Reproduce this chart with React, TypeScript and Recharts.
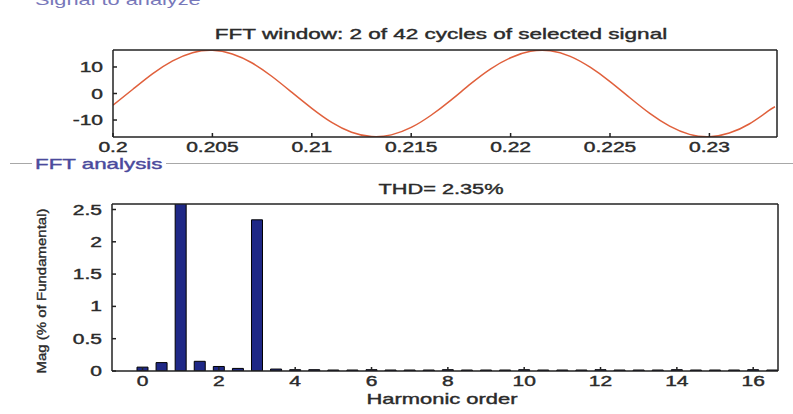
import React from 'react';
import { LineChart, Line, ComposedChart, Bar, XAxis, YAxis } from 'recharts';

// signal window (s) and amplitude
const timeS = [
  0.2, 0.201, 0.202, 0.203, 0.204, 0.205, 0.206, 0.207, 0.208, 0.209,
  0.21, 0.211, 0.212, 0.213, 0.214, 0.215, 0.216, 0.217, 0.218, 0.219,
  0.22, 0.221, 0.222, 0.223, 0.224, 0.225, 0.226, 0.227, 0.228, 0.229,
  0.23, 0.231, 0.232, 0.233, 0.2333,
];
const signal = [
  -4.4, 1.6, 7.5, 12.3, 15.4, 16.3, 14.9, 11.5, 6.4, 0.4,
  -5.6, -10.9, -14.6, -16.2, -15.6, -12.8, -8.2, -2.5, 3.7, 9.3,
  13.5, 15.9, 16.1, 14.0, 9.9, 4.5, -1.6, -7.5, -12.3, -15.4,
  -16.3, -14.9, -11.5, -6.4, -5.0,
];
const timeTicks = [0.2, 0.205, 0.21, 0.215, 0.22, 0.225, 0.23];
const signalTicks = [-10, 0, 10];

// FFT spectrum, % of fundamental
const harmonic = [
  0, 0.5, 1, 1.5, 2, 2.5, 3, 3.5, 4, 4.5, 5, 5.5, 6, 6.5, 7, 7.5, 8, 8.5,
  9, 9.5, 10, 10.5, 11, 11.5, 12, 12.5, 13, 13.5, 14, 14.5, 15, 15.5, 16, 16.5,
];
const magnitude = [
  0.06, 0.13, 100, 0.15, 0.07, 0.04, 2.34, 0.03, 0.02, 0.02, 0.015, 0.015, 0.02, 0.015, 0.015, 0.015, 0.02, 0.015,
  0.015, 0.015, 0.02, 0.015, 0.015, 0.015, 0.02, 0.015, 0.015, 0.015, 0.02, 0.015, 0.015, 0.015, 0.02, 0.015,
];
const harmonicTicks = [0, 2, 4, 6, 8, 10, 12, 14, 16];
const magTicks = [0, 0.5, 1, 1.5, 2, 2.5];

const signalData = timeS.map((t, i) => ({ t, v: signal[i] }));
const fftData = harmonic.map((h, i) => ({ h, m: magnitude[i] }));

const FONT = '"Liberation Sans", Arial, sans-serif';
const INK = '#2b2b2b';
const AXIS = '#222';

// matlab screenshot is stretched sideways, so labels get a horizontal scale
const StretchTick = (props: any) => {
  const { x, y, payload, textAnchor, dy } = props;
  return (
    <text
      transform={`translate(${x},${y}) scale(1.5,1)`}
      textAnchor={textAnchor}
      dy={dy}
      fontSize={14}
      fill={INK}
      stroke={INK}
      strokeWidth={0.4}
      fontFamily={FONT}
    >
      {String(payload.value)}
    </text>
  );
};

const xTick = (p: any) => <StretchTick {...p} dy="0.71em" />;
const yTick = (p: any) => <StretchTick {...p} dy="0.36em" />;

const label = (extra: React.CSSProperties): React.CSSProperties => ({
  position: 'absolute',
  fontSize: 15,
  color: INK,
  whiteSpace: 'nowrap',
  WebkitTextStroke: '0.4px currentColor',
  ...extra,
});

export default function App() {
  return (
    <div style={{ position: 'absolute', left: 0, top: 0, width: 793, height: 414, background: '#fff', overflow: 'hidden', fontFamily: FONT }}>
      <div style={label({ left: 35, top: -9, color: '#7878ba', WebkitTextStroke: '0px', transform: 'scaleX(1.45)', transformOrigin: 'left' })}>
        Signal to analyze
      </div>
      <div style={label({ left: 441, top: 25, transform: 'translateX(-50%) scaleX(1.5)' })}>
        FFT window: 2 of 42 cycles of selected signal
      </div>

      <div style={{ position: 'absolute', left: 0, top: 0 }}>
        <LineChart width={793} height={175} data={signalData} margin={{ top: 49, right: 15, bottom: 8, left: 63 }}>
          <XAxis
            dataKey="t"
            type="number"
            domain={[0.2, 0.2334]}
            ticks={timeTicks}
            allowDataOverflow
            height={30}
            stroke={AXIS}
            strokeWidth={1.5}
            tickSize={-4}
            tickMargin={9}
            tick={xTick}
          />
          {/* frame: top and right axes, 1px thick so they still render */}
          <XAxis xAxisId="top" dataKey="t" orientation="top" type="number" domain={[0.2, 0.2334]} ticks={timeTicks} allowDataOverflow height={1} stroke={AXIS} strokeWidth={1.5} tickSize={-4} tick={false} />
          <YAxis
            type="number"
            domain={[-16.4, 16.4]}
            ticks={signalTicks}
            allowDataOverflow
            width={50}
            stroke={AXIS}
            strokeWidth={1.5}
            tickSize={-4}
            tickMargin={14}
            tick={yTick}
          />
          <YAxis yAxisId="right" orientation="right" type="number" domain={[-16.4, 16.4]} ticks={signalTicks} allowDataOverflow width={1} stroke={AXIS} strokeWidth={1.5} tickSize={-4} tick={false} />
          <Line xAxisId="top" yAxisId="right" dataKey="v" stroke="none" dot={false} activeDot={false} isAnimationActive={false} />
          <Line type="natural" dataKey="v" stroke="#e0603c" strokeWidth={1.5} dot={false} isAnimationActive={false} />
        </LineChart>
      </div>

      {/* FFT analysis panel border */}
      <div style={{ position: 'absolute', left: 10, top: 163, width: 22, borderTop: '1px solid #a8a8a8' }} />
      <div style={{ position: 'absolute', left: 166, top: 163, width: 627, borderTop: '1px solid #a8a8a8' }} />
      <div style={label({ left: 35, top: 155, color: '#4a4a9c', transform: 'scaleX(1.49)', transformOrigin: 'left' })}>
        FFT analysis
      </div>

      <div style={label({ left: 441, top: 180, transform: 'translateX(-50%) scaleX(1.45)' })}>THD= 2.35%</div>
      <div
        style={label({
          left: 41,
          top: 291,
          transform: 'translate(-50%, -50%) rotate(-90deg) scaleY(0.9)',
        })}
      >
        Mag (% of Fundamental)
      </div>

      <div style={{ position: 'absolute', left: 0, top: 170 }}>
        <ComposedChart width={793} height={244} data={fftData} margin={{ top: 33, right: 14, bottom: 13, left: 62 }}>
          <XAxis
            dataKey="h"
            type="number"
            domain={[-0.8, 16.65]}
            ticks={harmonicTicks}
            allowDataOverflow
            height={30}
            stroke={AXIS}
            strokeWidth={1.5}
            tickSize={-4}
            tickMargin={9}
            tick={xTick}
          />
          <XAxis xAxisId="top" dataKey="h" orientation="top" type="number" domain={[-0.8, 16.65]} ticks={harmonicTicks} allowDataOverflow height={1} stroke={AXIS} strokeWidth={1.5} tickSize={-4} tick={false} />
          <YAxis
            type="number"
            domain={[0, 2.585]}
            ticks={magTicks}
            allowDataOverflow
            width={50}
            stroke={AXIS}
            strokeWidth={1.5}
            tickSize={-4}
            tickMargin={14}
            tick={yTick}
          />
          <YAxis yAxisId="right" orientation="right" type="number" domain={[0, 2.585]} ticks={magTicks} allowDataOverflow width={1} stroke={AXIS} strokeWidth={1.5} tickSize={-4} tick={false} />
          <Line xAxisId="top" yAxisId="right" dataKey="m" stroke="none" dot={false} activeDot={false} isAnimationActive={false} />
          <Bar dataKey="m" fill="#1f2886" stroke="#000" strokeWidth={1} barSize={11} isAnimationActive={false} />
        </ComposedChart>
      </div>

      <div style={label({ left: 442, top: 390, transform: 'translateX(-50%) scaleX(1.46)' })}>Harmonic order</div>
    </div>
  );
}
